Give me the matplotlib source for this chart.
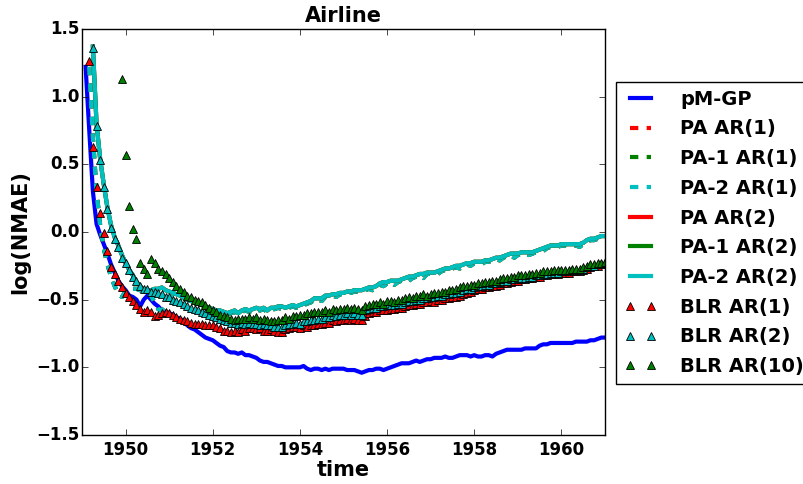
import matplotlib
matplotlib.use('Agg')
import matplotlib.pyplot as plt
import numpy as np

# ---------------- data ----------------
months = 1949 + np.arange(1, 145) / 12.0   # 144 monthly time stamps

pm_gp = [
    1.22, 0.75, 0.30, 0.06, -0.02, -0.09, -0.16, -0.24, -0.30, -0.36, -0.40, -0.43,
    -0.47, -0.48, -0.50, -0.55, -0.50, -0.47, -0.50, -0.53, -0.55, -0.58, -0.59, -0.60,
    -0.61, -0.63, -0.64, -0.66, -0.69, -0.71, -0.72, -0.74, -0.76, -0.78, -0.79, -0.80,
    -0.82, -0.84, -0.85, -0.88, -0.89, -0.89, -0.90, -0.89, -0.91, -0.91, -0.92, -0.93,
    -0.95, -0.96, -0.96, -0.97, -0.98, -0.99, -0.99, -1.00, -1.00, -1.00, -1.00, -1.00,
    -0.99, -1.01, -1.02, -1.01, -1.01, -1.02, -1.01, -1.02, -1.01, -1.01, -1.01, -1.01,
    -1.02, -1.02, -1.02, -1.03, -1.04, -1.03, -1.02, -1.02, -1.01, -1.01, -1.02, -1.01,
    -1.00, -0.99, -0.98, -0.97, -0.97, -0.97, -0.96, -0.95, -0.96, -0.95, -0.94, -0.94,
    -0.93, -0.93, -0.93, -0.92, -0.93, -0.93, -0.92, -0.91, -0.91, -0.91, -0.92, -0.91,
    -0.92, -0.92, -0.91, -0.91, -0.92, -0.90, -0.89, -0.88, -0.87, -0.87, -0.87, -0.87,
    -0.87, -0.86, -0.86, -0.86, -0.86, -0.84, -0.83, -0.83, -0.82, -0.82, -0.82, -0.82,
    -0.82, -0.82, -0.82, -0.81, -0.81, -0.81, -0.81, -0.80, -0.80, -0.79, -0.78, -0.78,
]

pa_ar1 = [
    1.22, 0.70, 0.30, 0.05, -0.12, -0.24, -0.33, -0.40, -0.46, -0.48, -0.44,
    -0.44, -0.42, -0.42, -0.43, -0.44, -0.45, -0.47, -0.52, -0.57, -0.58, -0.55, -0.50,
    -0.47, -0.47, -0.48, -0.49, -0.50, -0.51, -0.52, -0.53, -0.54, -0.55, -0.56, -0.57,
    -0.58, -0.59, -0.60, -0.61, -0.60, -0.59, -0.61, -0.59, -0.58, -0.59, -0.58, -0.57,
    -0.58, -0.57, -0.59, -0.57, -0.57, -0.56, -0.57, -0.57, -0.56, -0.55, -0.56, -0.55,
    -0.54, -0.53, -0.52, -0.50, -0.50, -0.51, -0.48, -0.48, -0.47, -0.48, -0.46, -0.46,
    -0.45, -0.45, -0.44, -0.44, -0.45, -0.43, -0.42, -0.43, -0.41, -0.39, -0.40, -0.38,
    -0.37, -0.39, -0.37, -0.36, -0.35, -0.36, -0.34, -0.33, -0.32, -0.34, -0.31, -0.31,
    -0.31, -0.31, -0.29, -0.28, -0.29, -0.27, -0.26, -0.27, -0.25, -0.24, -0.25, -0.23,
    -0.23, -0.24, -0.22, -0.22, -0.21, -0.20, -0.21, -0.19, -0.18, -0.17, -0.19, -0.17,
    -0.16, -0.16, -0.17, -0.16, -0.15, -0.14, -0.14, -0.12, -0.11, -0.12, -0.11, -0.10,
    -0.10, -0.11, -0.10, -0.10, -0.11, -0.09, -0.07, -0.06, -0.06, -0.05, -0.04, -0.04,
]

pa_ar2 = [
    1.37, 0.80, 0.54, 0.35, 0.18, 0.05, -0.04, -0.10, -0.17, -0.23,
    -0.28, -0.32, -0.37, -0.40, -0.43, -0.44, -0.43, -0.42, -0.42, -0.41, -0.43, -0.44,
    -0.45, -0.46, -0.47, -0.48, -0.50, -0.51, -0.52, -0.52, -0.54, -0.55, -0.56, -0.57,
    -0.58, -0.58, -0.59, -0.60, -0.59, -0.58, -0.60, -0.58, -0.57, -0.58, -0.57, -0.56,
    -0.57, -0.56, -0.58, -0.56, -0.56, -0.55, -0.55, -0.56, -0.55, -0.54, -0.55, -0.54,
    -0.53, -0.52, -0.51, -0.49, -0.49, -0.49, -0.47, -0.47, -0.46, -0.46, -0.45, -0.45,
    -0.44, -0.44, -0.43, -0.43, -0.43, -0.42, -0.41, -0.41, -0.40, -0.38, -0.37, -0.37,
    -0.36, -0.36, -0.36, -0.35, -0.34, -0.33, -0.33, -0.32, -0.31, -0.31, -0.30, -0.30,
    -0.30, -0.29, -0.28, -0.27, -0.27, -0.26, -0.25, -0.25, -0.24, -0.23, -0.23, -0.22,
    -0.22, -0.22, -0.21, -0.21, -0.20, -0.19, -0.19, -0.18, -0.17, -0.16, -0.16, -0.16,
    -0.15, -0.15, -0.15, -0.15, -0.14, -0.13, -0.12, -0.11, -0.10, -0.10, -0.10, -0.09,
    -0.09, -0.09, -0.09, -0.09, -0.09, -0.08, -0.06, -0.05, -0.05, -0.04, -0.03, -0.03,
]

blr_ar1 = [
    1.26, 0.63, 0.33, 0.14, -0.01, -0.14, -0.26, -0.31, -0.36, -0.41, -0.45,
    -0.48, -0.51, -0.54, -0.57, -0.59, -0.58, -0.59, -0.62, -0.61, -0.60, -0.59, -0.60,
    -0.61, -0.63, -0.64, -0.65, -0.66, -0.67, -0.68, -0.68, -0.68, -0.69, -0.69, -0.69,
    -0.70, -0.71, -0.73, -0.73, -0.74, -0.73, -0.74, -0.72, -0.73, -0.71, -0.71, -0.72,
    -0.71, -0.73, -0.73, -0.72, -0.73, -0.74, -0.74, -0.72, -0.71, -0.70, -0.70, -0.71,
    -0.69, -0.70, -0.69, -0.69, -0.68, -0.68, -0.67, -0.67, -0.65, -0.66, -0.65, -0.65,
    -0.64, -0.65, -0.64, -0.65, -0.65, -0.62, -0.60, -0.59, -0.59, -0.58, -0.58, -0.58,
    -0.57, -0.57, -0.56, -0.56, -0.55, -0.54, -0.54, -0.53, -0.53, -0.52, -0.52, -0.51,
    -0.52, -0.50, -0.50, -0.49, -0.49, -0.48, -0.48, -0.47, -0.46, -0.45, -0.44, -0.43,
    -0.42, -0.42, -0.41, -0.41, -0.40, -0.40, -0.39, -0.38, -0.38, -0.37, -0.36, -0.36,
    -0.35, -0.35, -0.34, -0.34, -0.33, -0.33, -0.32, -0.32, -0.31, -0.31, -0.31, -0.30,
    -0.30, -0.30, -0.29, -0.29, -0.29, -0.28, -0.27, -0.26, -0.25, -0.25, -0.24, -0.23,
]

blr_ar2 = [
    1.36, 0.78, 0.53, 0.33, 0.17, 0.03, -0.05, -0.11, -0.19, -0.23,
    -0.28, -0.33, -0.36, -0.40, -0.42, -0.42, -0.44, -0.44, -0.45, -0.46, -0.48, -0.48,
    -0.50, -0.51, -0.52, -0.53, -0.55, -0.56, -0.57, -0.58, -0.59, -0.60, -0.61, -0.62,
    -0.63, -0.64, -0.65, -0.66, -0.67, -0.67, -0.68, -0.67, -0.68, -0.67, -0.68, -0.68,
    -0.69, -0.68, -0.69, -0.69, -0.70, -0.70, -0.70, -0.69, -0.68, -0.68, -0.67, -0.68,
    -0.66, -0.66, -0.65, -0.65, -0.64, -0.64, -0.63, -0.63, -0.61, -0.62, -0.61, -0.61,
    -0.60, -0.61, -0.60, -0.61, -0.61, -0.58, -0.57, -0.56, -0.56, -0.55, -0.55, -0.54,
    -0.54, -0.54, -0.53, -0.53, -0.52, -0.51, -0.51, -0.50, -0.50, -0.49, -0.49, -0.48,
    -0.48, -0.47, -0.47, -0.46, -0.46, -0.45, -0.45, -0.44, -0.43, -0.42, -0.42, -0.41,
    -0.40, -0.40, -0.39, -0.39, -0.38, -0.38, -0.37, -0.36, -0.36, -0.35, -0.35, -0.34,
    -0.34, -0.34, -0.33, -0.33, -0.32, -0.32, -0.31, -0.31, -0.30, -0.30, -0.30, -0.29,
    -0.29, -0.29, -0.28, -0.28, -0.28, -0.27, -0.26, -0.25, -0.25, -0.24, -0.24, -0.23,
]

blr_ar10 = [
    1.13, 0.57,
    0.19, 0.02, -0.05, -0.23, -0.27, -0.31, -0.20, -0.23, -0.27, -0.29, -0.31, -0.34,
    -0.37, -0.40, -0.42, -0.44, -0.47, -0.48, -0.50, -0.51, -0.52, -0.54, -0.56, -0.58,
    -0.59, -0.61, -0.62, -0.63, -0.64, -0.65, -0.64, -0.64, -0.64, -0.63, -0.64, -0.63,
    -0.65, -0.64, -0.65, -0.66, -0.66, -0.65, -0.65, -0.63, -0.64, -0.62, -0.62, -0.61,
    -0.61, -0.60, -0.60, -0.59, -0.59, -0.59, -0.58, -0.59, -0.57, -0.58, -0.57, -0.57,
    -0.56, -0.57, -0.56, -0.57, -0.58, -0.55, -0.54, -0.53, -0.53, -0.52, -0.53, -0.51,
    -0.51, -0.52, -0.50, -0.50, -0.49, -0.48, -0.49, -0.47, -0.47, -0.46, -0.47, -0.46,
    -0.45, -0.45, -0.44, -0.44, -0.43, -0.43, -0.42, -0.41, -0.40, -0.40, -0.39, -0.39,
    -0.38, -0.38, -0.37, -0.37, -0.36, -0.36, -0.35, -0.34, -0.34, -0.33, -0.33, -0.32,
    -0.32, -0.32, -0.31, -0.31, -0.30, -0.30, -0.29, -0.29, -0.29, -0.28, -0.28, -0.28,
    -0.28, -0.28, -0.27, -0.27, -0.27, -0.26, -0.25, -0.24, -0.24, -0.23, -0.23, -0.22,
]

x_ticks = [1950, 1952, 1954, 1956, 1958, 1960]
y_ticks = [-1.5, -1.0, -0.5, 0.0, 0.5, 1.0, 1.5]

# ---------------- style ----------------
plt.style.use('classic')
plt.rcParams['font.family'] = ['DejaVu Sans']
plt.rcParams['font.weight'] = 'bold'
plt.rcParams['axes.labelweight'] = 'bold'
plt.rcParams['axes.formatter.useoffset'] = False
plt.rcParams['figure.facecolor'] = 'white'
plt.rcParams['savefig.facecolor'] = 'white'

fig = plt.figure(figsize=(8.04, 4.84), dpi=100)
ax = fig.add_axes([82 / 804, 1 - 435 / 484, (605 - 82) / 804, (435 - 29) / 484])


def tail(arr):
    return months[-len(arr):]


lw = 3
ax.plot(tail(pm_gp), pm_gp, '-', color='b', lw=lw, label='pM-GP')
ax.plot(tail(pa_ar1), pa_ar1, '--', color='r', lw=lw, label='PA AR(1)')
ax.plot(tail(pa_ar1), pa_ar1, '--', color='g', lw=lw, label='PA-1 AR(1)')
ax.plot(tail(pa_ar1), pa_ar1, '--', color='c', lw=lw, label='PA-2 AR(1)')
ax.plot(tail(pa_ar2), pa_ar2, '-', color='r', lw=lw, label='PA AR(2)')
ax.plot(tail(pa_ar2), pa_ar2, '-', color='g', lw=lw, label='PA-1 AR(2)')
ax.plot(tail(pa_ar2), pa_ar2, '-', color='c', lw=lw, label='PA-2 AR(2)')

mk = dict(linestyle='none', marker='^', markersize=6, markeredgecolor='k',
          markeredgewidth=0.6)
ax.plot(tail(blr_ar1), blr_ar1, color='r', markerfacecolor='r', label='BLR AR(1)', **mk)
ax.plot(tail(blr_ar2), blr_ar2, color='c', markerfacecolor='c', label='BLR AR(2)', **mk)
ax.plot(tail(blr_ar10), blr_ar10, color='g', markerfacecolor='g', label='BLR AR(10)', **mk)

ax.set_xlim(1949, 1961)
ax.set_ylim(-1.5, 1.5)
ax.set_xticks(x_ticks)
ax.set_yticks(y_ticks)
ax.ticklabel_format(useOffset=False)
ax.tick_params(labelsize=12)
ax.tick_params(axis='y', pad=2)
for lab in ax.get_xticklabels() + ax.get_yticklabels():
    lab.set_fontweight('bold')

ax.set_title('Airline', fontsize=15, fontweight='bold')
ax.set_xlabel('time', fontsize=15, fontweight='bold', labelpad=1)
ax.set_ylabel('log(NMAE)', fontsize=15, fontweight='bold', labelpad=4)

leg = ax.legend(loc='upper left', bbox_to_anchor=(616 / 804, 1 - 82 / 484),
                bbox_transform=fig.transFigure, borderaxespad=0,
                prop={'size': 14, 'weight': 'bold'}, numpoints=2,
                fancybox=False, handlelength=1.7, handletextpad=1.2,
                labelspacing=0.55)
leg.get_frame().set_edgecolor('k')

fig.savefig('out.png', dpi=100, facecolor='white')
